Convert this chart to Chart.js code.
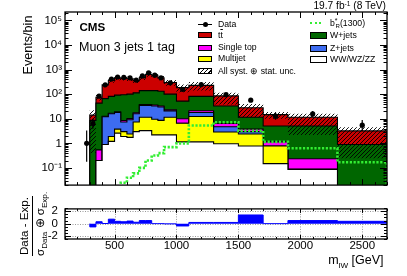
<!DOCTYPE html>
<html>
<head>
<meta charset="utf-8">
<script src="https://cdn.jsdelivr.net/npm/chart.js@4.4.1/dist/chart.umd.min.js"></script>
<style>
html, body { margin: 0; padding: 0; background: #fff; }
#wrap { position: relative; width: 407px; height: 276px; overflow: hidden;
        font-family: "Liberation Sans", Arial, sans-serif; color: #000; }
canvas { position: absolute; left: 0; }
.t { position: absolute; white-space: nowrap; line-height: 1; }
.leg { font-size: 8.7px; }
.box { position: absolute; border: 1px solid #000; box-sizing: border-box; }
.rot { position: absolute; transform-origin: 0 0; transform: rotate(-90deg); white-space: nowrap; }
sub, sup { line-height: 0; }
</style>
</head>
<body>
<div id="wrap">
  <canvas id="main" width="407" height="195" style="top:0"></canvas>
  <canvas id="ratio" width="407" height="81" style="top:195px"></canvas>

  <div class="t" style="left:79.5px; top:21.2px; font-size:11.6px; font-weight:bold;">CMS</div>
  <div class="t" style="left:79px; top:41.1px; font-size:12.5px;">Muon 3 jets 1 tag</div>
  <div class="t" style="right:21px; top:1.4px; font-size:10.2px;">19.7 fb<sup style="font-size:0.65em; vertical-align:0.5em;">-1</sup> (8 TeV)</div>

  <!-- legend, left column -->
  <div style="position:absolute; left:198px; top:24px; width:14px; height:1px; background:#000;"></div>
  <div style="position:absolute; left:202.5px; top:21.8px; width:5.2px; height:5.2px; border-radius:50%; background:#000;"></div>
  <div class="t leg" style="left:218px; top:20px;">Data</div>
  <div class="box" style="left:198px; top:32px; width:14px; height:6.3px; background:#cc0000;"></div>
  <div class="t leg" style="left:218px; top:30.7px;">t<span style="text-decoration:overline;">t</span></div>
  <div class="box" style="left:198px; top:44.5px; width:14px; height:6.3px; background:#ff00ff;"></div>
  <div class="t leg" style="left:218px; top:43.2px;">Single top</div>
  <div class="box" style="left:198px; top:55.7px; width:14px; height:6.3px; background:#ffff00;"></div>
  <div class="t leg" style="left:218px; top:54.4px;">Multijet</div>
  <div class="box" style="left:198px; top:68px; width:14px; height:6.3px; background:repeating-linear-gradient(135deg, #000 0 0.9px, #fff 0.9px 3px);"></div>
  <div class="t leg" style="left:218px; top:66.7px;">All syst. ⊕ stat. unc.</div>

  <!-- legend, right column -->
  <div style="position:absolute; left:310px; top:22px; width:11px; height:0; border-top:2.6px dotted #33ee33;"></div>
  <div class="t leg" style="left:330px; top:19px;">b<sup style="font-size:0.8em; vertical-align:0.45em;">*</sup><sub style="font-size:0.7em; vertical-align:-0.35em; margin-left:-2px;">R</sub>(1300)</div>
  <div class="box" style="left:310px; top:31.7px; width:16.7px; height:7px; background:#006600;"></div>
  <div class="t leg" style="left:330px; top:30.7px;">W+jets</div>
  <div class="box" style="left:310px; top:44.5px; width:16.7px; height:7px; background:#3d6cf0;"></div>
  <div class="t leg" style="left:330px; top:43.5px;">Z+jets</div>
  <div class="box" style="left:310px; top:56.2px; width:16.7px; height:7px; background:#fff;"></div>
  <div class="t leg" style="left:330px; top:55.4px;">WW/WZ/ZZ</div>

  <!-- axis titles -->
  <div class="rot" style="left:22px; top:95px; width:100px; text-align:center; font-size:12.6px; line-height:1;">Events/bin</div>
  <div class="rot" style="left:18px; top:266px; width:80px; text-align:center; font-size:11.6px;">
    <div style="line-height:12px;">Data - Exp.</div>
    <div style="border-top:1px solid #000; margin:2px 10px 0; line-height:13px;">σ<sub style="font-size:0.7em;">Data</sub> ⊕ σ<sub style="font-size:0.7em;">Exp.</sub></div>
  </div>
  <div class="t" style="right:23.5px; top:254.4px; font-size:12.5px;">m<sub style="font-size:0.65em;">lW</sub> [GeV]</div>
</div>

<script>
const FONT = '"Liberation Sans", Arial, sans-serif';

// bin edges in m_lW [GeV] (variable width)
const binEdges = [250, 300, 350, 400, 450, 500, 550, 600, 650, 700, 750, 800, 850, 900, 1000, 1100, 1300, 1500, 1700, 1900, 2300, 2700];

// events per bin
const dataYield      = [1.0, 6.4, 83, 240, 410, 500, 480, 460, 375, 550, 740, 590, 460, 290, 157, 245, 95, 57, 12.7, 15.7, 5.5];
const dataErrLow     = [0.82, 2.5, 9, 15.5, 20, 22, 22, 21, 19, 23, 27, 24, 21, 17, 12.5, 15.7, 9.7, 7.5, 3.6, 4, 2.3];
const dataErrHigh    = [2.3, 3.6, 9.5, 16, 21, 23, 23, 22, 20, 24, 28, 25, 22, 18, 13.5, 16.7, 10.7, 8.6, 4.7, 5, 3.3];
const dibosonYield   = [0, 0, 0.2, 0.9, 1.2, 2.6, 1.9, 1.75, 3.0, 3.3, 3.3, 2.2, 2.2, 2.2, 1.15, 1.15, 0.96, 0.78, 0.15, 0.087, 0];
const multijetYield  = [0, 0, 0, 0, 0.7, 1.2, 1.1, 0.65, 4.4, 8.2, 8.2, 7.3, 6.4, 9.3, 5.45, 11.2, 1.94, 1.62, 0.63, 0, 0];
const zjetsYield     = [0, 0, 0, 11.1, 14.1, 14.2, 4.4, 6.7, 8.6, 23.5, 23.5, 23.5, 21.4, 9.5, 0, 5.7, 1.8, 0.6, 0, 0, 0];
const singleTopYield = [0, 0, 0.34, 0.5, 0.8, 1.0, 1.1, 1.1, 1.5, 3.0, 3.0, 3.0, 3.0, 2.0, 3.4, 3.0, 1.7, 0.8, 0.37, 0.15, 0];
const wjetsYield     = [0, 8.6, 42.5, 53.5, 64.2, 72, 86.5, 89.8, 95.5, 101, 101, 103, 98, 77, 42, 60, 26.6, 7.7, 3.95, 4.86, 0.9];
const ttbarYield     = [0, 5.4, 32, 172, 279, 369, 355, 325, 242, 331, 501, 451, 329, 195, 133, 147, 52, 16.5, 9.6, 6.4, 2.3];
const signalYield    = [0, 0, 0, 0, 0, 0, 0.025, 0.04, 0.06, 0.1, 0.2, 0.32, 0.4, 0.7, 1.0, 5.3, 7.2, 3.2, 1.15, 0.63, 0.17];
// total uncertainty band (lower / upper edge)
const bandLow        = [0, 0.4, 55, 190, 290, 370, 360, 340, 285, 375, 510, 470, 370, 220, 120, 140, 38, 11, 10, 2.2, 0.25];
const bandHigh       = [0, 22, 95, 285, 430, 550, 540, 510, 425, 565, 770, 710, 550, 380, 250, 310, 115, 40, 19, 16, 4.5];
// (Data - Exp.) / (sigma_Data (+) sigma_Exp.)
const pullValues     = [null, -0.52, 0.3, 0.02, 0.71, 0.37, 0.3, 0.41, 0.22, 0.49, 0.49, 0, 0, -0.04, -0.37, 0.19, 0.19, 1.38, 0, 0.49, 0.37];

const yDecades = [0.1, 1, 10, 100, 1e3, 1e4, 1e5];
const yDecadeLabels = ["10⁻¹", "1", "10", "10²", "10³", "10⁴", "10⁵"];
const massTicks = [500, 1000, 1500, 2000, 2500];
const pullTicks = [-2, 0, 2];

const X_MIN = 100, X_MAX = 2700;
const Y_MIN = 0.02, Y_MAX = 2.2e5;
const FLOOR = 1e-4; // below the visible range, so empty bins drop out of the frame

// stepped 'before' outline: one point per low edge, closed on the last edge
function histPoints(vals, floor) {
    const last = binEdges[binEdges.length - 1];
    const pts = [{ x: binEdges[0], y: floor }];
    vals.forEach((v, i) => pts.push({ x: binEdges[i], y: Math.max(v || 0, floor) }));
    pts.push({ x: last, y: Math.max(vals[vals.length - 1] || 0, floor) });
    pts.push({ x: last, y: floor });
    return pts;
}

// running sums for the stack, bottom to top
const stackDefs = [
    { vals: dibosonYield, color: "#ffffff" },
    { vals: multijetYield, color: "#ffff00" },
    { vals: zjetsYield, color: "#3d6cf0" },
    { vals: singleTopYield, color: "#ff00ff" },
    { vals: wjetsYield, color: "#006600" },
    { vals: ttbarYield, color: "#cc0000" },
];
let running = dibosonYield.map(() => 0);
const stackTops = stackDefs.map(s => {
    running = running.map((v, i) => v + s.vals[i]);
    return running;
});

function hatchPattern(ctx) {
    const c = document.createElement("canvas");
    c.width = c.height = 4;
    const g = c.getContext("2d");
    g.strokeStyle = "#000";
    g.lineWidth = 0.9;
    g.beginPath();
    g.moveTo(0, 4); g.lineTo(4, 0);
    g.moveTo(-1, 1); g.lineTo(1, -1);
    g.moveTo(3, 5); g.lineTo(5, 3);
    g.stroke();
    return ctx.createPattern(c, "repeat");
}

const frameTicks = {
    id: "frameTicks",
    beforeDatasetsDraw(chart, args, opts) {
        if (!opts.grid) return;
        const { ctx, chartArea: a, scales: { x, y } } = chart;
        ctx.save();
        ctx.strokeStyle = "#999";
        ctx.lineWidth = 1;
        ctx.setLineDash([1, 1.5]);
        ctx.beginPath();
        opts.grid.x.forEach(v => {
            const px = Math.round(x.getPixelForValue(v)) + 0.5;
            ctx.moveTo(px, a.top); ctx.lineTo(px, a.bottom);
        });
        opts.grid.y.forEach(v => {
            const py = Math.round(y.getPixelForValue(v)) + 0.5;
            ctx.moveTo(a.left, py); ctx.lineTo(a.right, py);
        });
        ctx.stroke();
        ctx.restore();
    },
    afterDatasetsDraw(chart, args, opts) {
        const { ctx, chartArea: a, scales: { x, y } } = chart;
        ctx.save();
        ctx.strokeStyle = "#000";
        ctx.lineWidth = 1;
        ctx.beginPath();
        opts.xTicks.forEach(([v, len]) => {
            const px = Math.round(x.getPixelForValue(v)) + 0.5;
            ctx.moveTo(px, a.bottom); ctx.lineTo(px, a.bottom - len);
            ctx.moveTo(px, a.top); ctx.lineTo(px, a.top + len);
        });
        opts.yTicks.forEach(([v, len]) => {
            const py = Math.round(y.getPixelForValue(v)) + 0.5;
            ctx.moveTo(a.left, py); ctx.lineTo(a.left + len, py);
            ctx.moveTo(a.right, py); ctx.lineTo(a.right - len, py);
        });
        ctx.stroke();
        ctx.lineWidth = 1.3;
        ctx.strokeRect(a.left, a.top, a.right - a.left, a.bottom - a.top);
        ctx.restore();
    },
};

const errorBars = {
    id: "errorBars",
    afterDatasetsDraw(chart) {
        const { ctx, chartArea: a, scales: { x, y } } = chart;
        ctx.save();
        ctx.strokeStyle = "#000";
        ctx.lineWidth = 1.2;
        ctx.beginPath();
        dataYield.forEach((v, i) => {
            const px = x.getPixelForValue((binEdges[i] + binEdges[i + 1]) / 2);
            const lo = Math.min(y.getPixelForValue(Math.max(v - dataErrLow[i], Y_MIN)), a.bottom);
            const hi = y.getPixelForValue(v + dataErrHigh[i]);
            ctx.moveTo(px, lo); ctx.lineTo(px, hi);
        });
        ctx.stroke();
        ctx.restore();
    },
};

function massTickList(major, minor) {
    const out = [];
    for (let v = X_MIN; v <= X_MAX; v += 100) out.push([v, v % 500 === 0 ? major : minor]);
    return out;
}

function logTickList() {
    const out = [];
    for (let e = -2; e <= 5; e++) {
        for (let k = 1; k <= 9; k++) {
            const v = k * Math.pow(10, e);
            if (v >= Y_MIN && v <= Y_MAX) out.push([v, k === 1 ? 7 : 3.5]);
        }
    }
    return out;
}

// ---------- main panel ----------
const mainCtx = document.getElementById("main").getContext("2d");
const datasets = [];

datasets.push({
    label: "Data",
    data: dataYield.map((v, i) => ({ x: (binEdges[i] + binEdges[i + 1]) / 2, y: v })),
    showLine: false,
    pointRadius: 2.6,
    pointBackgroundColor: "#000",
    pointBorderWidth: 0,
    order: 0,
});

datasets.push({
    label: "b*R(1300)",
    data: histPoints(signalYield, FLOOR),
    stepped: "before",
    borderColor: "#33ee33",
    borderWidth: 2.6,
    borderDash: [2.2, 1.6],
    pointRadius: 0,
    fill: false,
    order: 1,
});

const bandLowIndex = datasets.length;
datasets.push({
    label: "band low",
    data: histPoints(bandLow, FLOOR),
    stepped: "before",
    borderWidth: 0,
    pointRadius: 0,
    fill: false,
    order: 3,
});
datasets.push({
    label: "All syst. ⊕ stat. unc.",
    data: histPoints(bandHigh, FLOOR),
    stepped: "before",
    borderWidth: 0,
    pointRadius: 0,
    backgroundColor: hatchPattern(mainCtx),
    fill: bandLowIndex,
    order: 2,
});

stackDefs.forEach((s, k) => {
    datasets.push({
        data: histPoints(stackTops[k], FLOOR),
        stepped: "before",
        borderColor: "#000",
        borderWidth: 1.1,
        backgroundColor: s.color,
        pointRadius: 0,
        fill: "origin",
        order: 10 + k,
    });
});

new Chart(mainCtx, {
    type: "line",
    data: { datasets },
    plugins: [frameTicks, errorBars],
    options: {
        responsive: false,
        animation: false,
        devicePixelRatio: 1,
        events: [],
        layout: { padding: { top: 12, right: 20, bottom: 3, left: 0 } },
        plugins: {
            legend: { display: false },
            tooltip: { enabled: false },
            frameTicks: { xTicks: massTickList(6, 3), yTicks: logTickList() },
        },
        scales: {
            x: { type: "linear", min: X_MIN, max: X_MAX, display: false },
            y: {
                type: "logarithmic",
                min: Y_MIN,
                max: Y_MAX,
                afterBuildTicks: s => { s.ticks = yDecades.map(v => ({ value: v })); },
                afterFit: s => { s.width = 65; },
                grid: { display: false, drawTicks: false },
                border: { display: false },
                ticks: {
                    autoSkip: false,
                    padding: 3,
                    color: "#000",
                    font: { family: FONT, size: 11.5 },
                    callback: (v, i) => yDecadeLabels[i],
                },
            },
        },
    },
});

// ---------- ratio panel ----------
const pullPoints = [];
pullValues.forEach((v, i) => {
    if (v === null) return;
    pullPoints.push({ x: binEdges[i], y: v });
});
pullPoints.push({ x: binEdges[binEdges.length - 1], y: pullValues[pullValues.length - 1] });
pullPoints.push({ x: binEdges[binEdges.length - 1], y: 0 });
pullPoints.unshift({ x: pullPoints[0].x, y: 0 });

const pullTickMarks = [];
for (let v = -2.5; v <= 2.5; v += 0.5) pullTickMarks.push([v, v % 2 === 0 ? 6 : 3]);

new Chart(document.getElementById("ratio").getContext("2d"), {
    type: "line",
    data: {
        datasets: [{
            data: pullPoints,
            stepped: "before",
            borderColor: "#0000ff",
            borderWidth: 1,
            backgroundColor: "#0000ff",
            pointRadius: 0,
            fill: "origin",
        }],
    },
    plugins: [frameTicks],
    options: {
        responsive: false,
        animation: false,
        devicePixelRatio: 1,
        events: [],
        layout: { padding: { top: 2, right: 20, bottom: 0, left: 0 } },
        plugins: {
            legend: { display: false },
            tooltip: { enabled: false },
            frameTicks: {
                xTicks: massTickList(4, 2),
                yTicks: pullTickMarks,
                grid: { x: massTicks, y: pullTicks },
            },
        },
        scales: {
            x: {
                type: "linear",
                min: X_MIN,
                max: X_MAX,
                afterBuildTicks: s => { s.ticks = massTicks.map(v => ({ value: v })); },
                afterFit: s => { s.height = 37; },
                grid: { display: false, drawTicks: false },
                border: { display: false },
                ticks: {
                    autoSkip: false,
                    maxRotation: 0,
                    padding: 0,
                    color: "#000",
                    font: { family: FONT, size: 11.5 },
                    callback: v => String(v),
                },
            },
            y: {
                type: "linear",
                min: -2.45,
                max: 2.35,
                afterBuildTicks: s => { s.ticks = pullTicks.map(v => ({ value: v })); },
                afterFit: s => { s.width = 65; },
                grid: { display: false, drawTicks: false },
                border: { display: false },
                ticks: {
                    autoSkip: false,
                    padding: 7,
                    color: "#000",
                    font: { family: FONT, size: 11.5 },
                    callback: v => String(v),
                },
            },
        },
    },
});
</script>
</body>
</html>
